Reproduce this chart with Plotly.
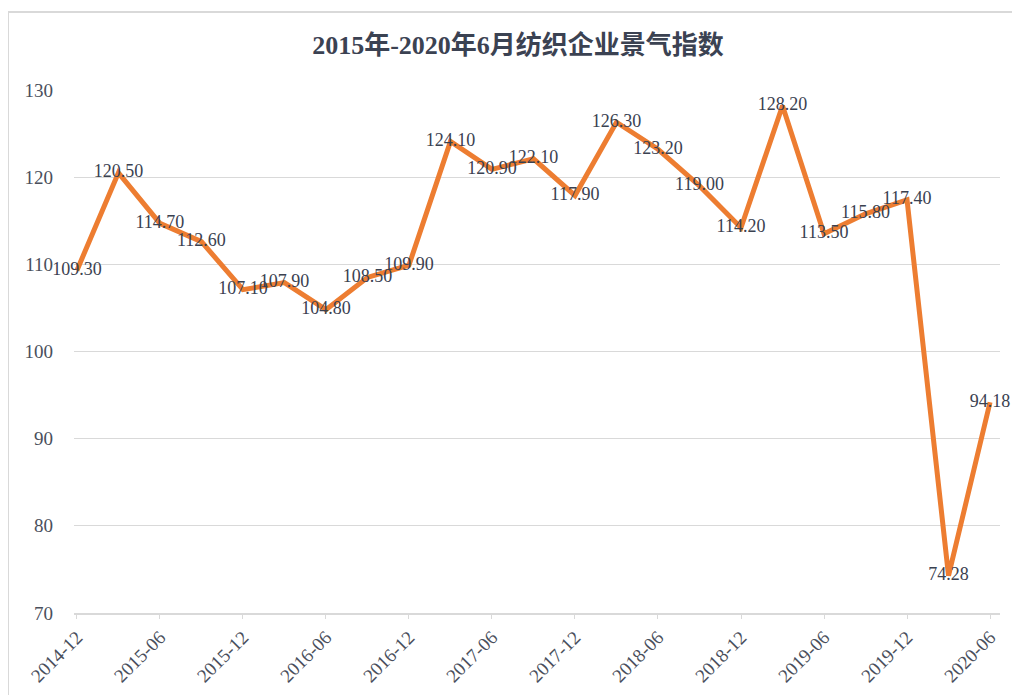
import plotly.graph_objects as go

dates = ["2014-12", "2015-03", "2015-06", "2015-09", "2015-12", "2016-03", "2016-06",
         "2016-09", "2016-12", "2017-03", "2017-06", "2017-09", "2017-12", "2018-03",
         "2018-06", "2018-09", "2018-12", "2019-03", "2019-06", "2019-09", "2019-12",
         "2020-03", "2020-06"]
values = [109.30, 120.50, 114.70, 112.60, 107.10, 107.90, 104.80, 108.50, 109.90,
          124.10, 120.90, 122.10, 117.90, 126.30, 123.20, 119.00, 114.20, 128.20,
          113.50, 115.80, 117.40, 74.28, 94.18]
title_text = "2015年-2020年6月纺织企业景气指数"

idx = list(range(len(dates)))
tick_idx = idx[::2]
tick_text = [dates[i] for i in tick_idx]

serif = "Liberation Serif, Times New Roman, Noto Sans CJK SC, serif"

fig = go.Figure()
fig.add_trace(go.Scatter(
    x=idx, y=values, mode="lines+text",
    line=dict(color="#ED7D31", width=5),
    text=[f"{v:.2f}" for v in values],
    textposition="middle center",
    textfont=dict(family=serif, size=18, color="#3a4150"),
    cliponaxis=False,
    hoverinfo="skip", showlegend=False,
))

fig.update_layout(
    width=1020, height=695,
    margin=dict(l=66, r=28, t=82, b=90, autoexpand=False),
    paper_bgcolor="white", plot_bgcolor="white",
    title=dict(text="<b>" + title_text + "</b>", x=0.5, xanchor="center",
               y=1 - 37 / 695, yanchor="middle",
               font=dict(family=serif, size=26, color="#3b4252")),
    xaxis=dict(range=[-0.07, 22.24], tickmode="array", tickvals=tick_idx,
               ticktext=tick_text, tickangle=-45, showgrid=False, zeroline=False,
               showline=True, linecolor="#d9d9d9", linewidth=1.5,
               ticks="outside", ticklen=4, tickcolor="#d9d9d9", automargin=False,
               tickfont=dict(family=serif, size=19, color="#4a4f5c")),
    yaxis=dict(range=[70, 130], dtick=10, showgrid=True, gridcolor="#d9d9d9",
               gridwidth=1, zeroline=False, showline=False, ticks="",
               ticklabelstandoff=20, automargin=False,
               tickfont=dict(family=serif, size=19, color="#4a4f5c")),
    shapes=[dict(type="rect", xref="paper", yref="paper",
                 x0=-0.0713, x1=1.05, y0=-0.2, y1=1.149,
                 line=dict(color="#d9d9d9", width=2), layer="below")],
)

fig.write_html("out.html")
